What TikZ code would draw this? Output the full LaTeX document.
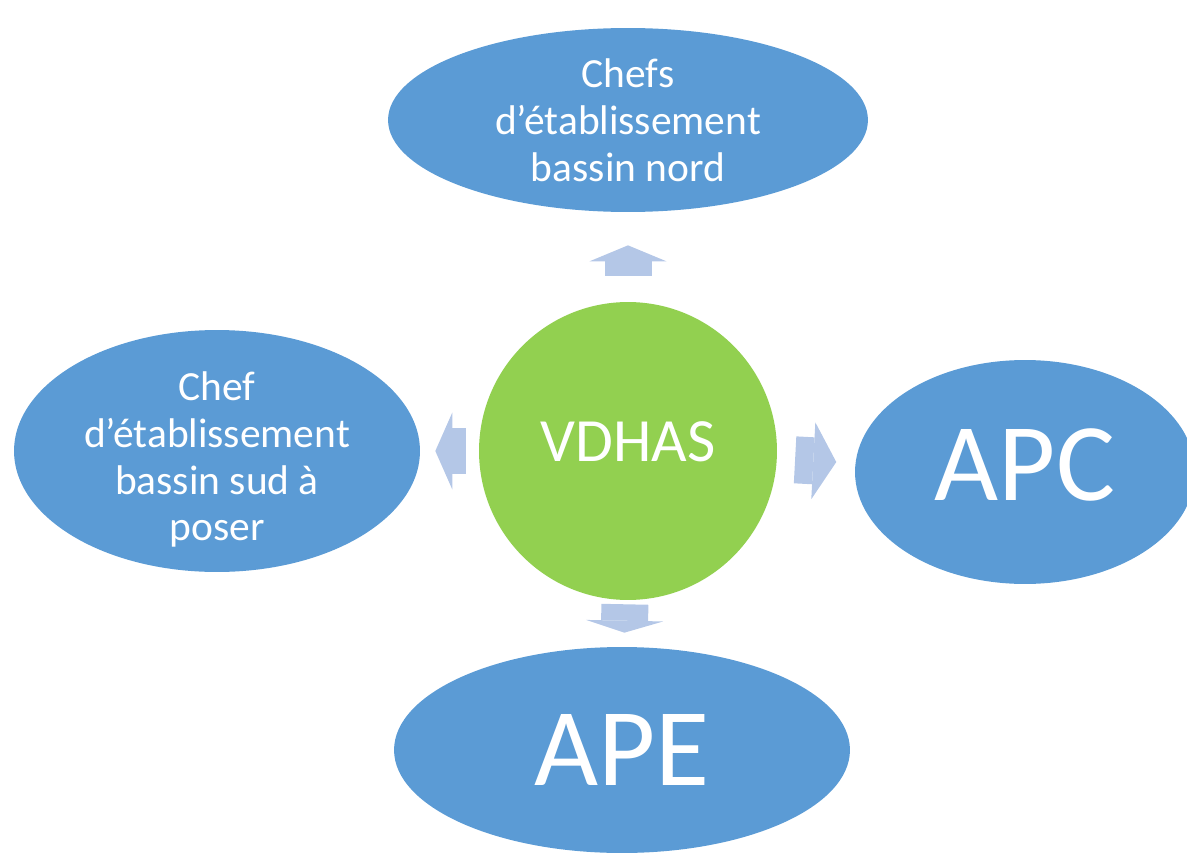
\documentclass[tikz,border=0pt]{standalone}
\usepackage{fontspec}
\setmainfont{Carlito}
\usetikzlibrary{shapes.geometric,arrows.meta}
\definecolor{bubbleblue}{HTML}{5B9BD5}
\definecolor{hubgreen}{HTML}{92D050}
\definecolor{flowblue}{HTML}{B4C7E7}

\begin{document}
\begin{tikzpicture}[
    % GLOBAL CFG
    x=0.02cm, y=-0.02cm,
    % Styles
    bubble/.style={% For the outer ellipses
        ellipse,
        fill=bubbleblue,
        inner sep=0pt,
        text=white,
        },
    hub/.style={% For the centre circle
        circle,
        fill=hubgreen,
        minimum size=5.96cm,
        inner sep=0pt,
        text=white,
        font=\fontsize{35pt}{35pt}\selectfont,
        },
    bubbletext/.style={% Text with several lines in the ellipses
        text=white,
        align=center,
        inner sep=0pt,
        font=\fontsize{23.6pt}{26.7pt}\selectfont,
        },
    bigtext/.style={% Short names
        font=\fontsize{63pt}{63pt}\selectfont,
        },
    flow/.style={% Block arrows
        draw=flowblue,
        line width=0.94cm,
        -{Triangle[length=#1 0, width=1.54cm 0, line width=0pt 0]},
        },
    ]

    \useasboundingbox (0,0) rectangle (1187,855);
    \clip (0,0) rectangle (1187,855);

    % Centre
    \node [hub, text depth=0.36cm] (vdhas) at (628,451) {VDHAS};

    % Ellipses round it
    \node [bubble, minimum width=9.6cm, minimum height=3.68cm,
        label={[bubbletext]center:Chefs\\d’établissement\\bassin nord}] (chefsNord) at (628,120) {};
    \node [bubble, minimum width=8.12cm, minimum height=4.84cm,
        label={[bubbletext, yshift=-0.17cm]center:Chef\\d’établissement\\bassin sud à\\poser}] (chefSud) at (217,451) {};
    \node [bubble, bigtext, minimum width=6.8cm, minimum height=4.48cm, text depth=0.28cm] (apc) at (1025,472) {APC};
    \node [bubble, bigtext, minimum width=9.12cm, minimum height=4.12cm] (ape) at (622,750) {APE};

    % Arrows
    \draw [flow=0.32cm, shorten <=0.52cm, shorten >=0.66cm] (vdhas) -- (chefsNord);
    \draw [flow=0.34cm, shorten <=0.26cm, shorten >=0.30cm] (vdhas) -- (chefSud);
    \draw [flow=0.46cm, shorten <=0.36cm, shorten >=0.38cm] (vdhas) -- (apc);
    \draw [flow=0.24cm, shorten <=0.08cm, shorten >=0.28cm] (vdhas) -- (ape);

\end{tikzpicture}
\end{document}
